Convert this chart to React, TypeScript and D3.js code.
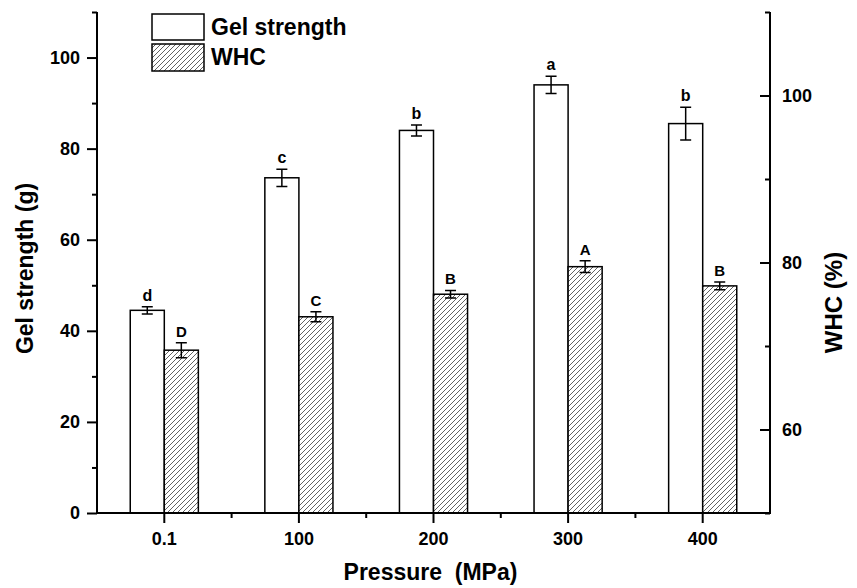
import React, { useRef, useEffect } from 'react';
import * as d3 from 'd3';

const categories = ['0.1', '100', '200', '300', '400'];
const gelStrength = [44.5, 73.6, 84.0, 94.0, 85.5];
const gelError = [0.8, 1.9, 1.2, 1.9, 3.6];
const gelLetters = ['d', 'c', 'b', 'a', 'b'];
const whc = [69.5, 73.5, 76.2, 79.5, 77.2];
const whcError = [0.9, 0.6, 0.45, 0.7, 0.45];
const whcLetters = ['D', 'C', 'B', 'A', 'B'];
const leftTicks = [0, 20, 40, 60, 80, 100];
const leftMinor = [10, 30, 50, 70, 90, 110];
const rightTicks = [60, 80, 100];
const rightMinor = [50, 70, 90, 110];

const FONT = '"Liberation Sans", Arial, Helvetica, sans-serif';

const App = () => {
  const svgRef = useRef<SVGSVGElement | null>(null);

  useEffect(() => {
    const width = 857;
    const height = 588;
    const left = 97, right = 770, top = 12, bottom = 513;

    const svg = d3.select(svgRef.current);
    svg.selectAll('*').remove();
    svg.attr('width', width).attr('height', height);

    svg.append('rect').attr('width', width).attr('height', height).attr('fill', '#fff');

    const defs = svg.append('defs');
    const pat = defs.append('pattern')
      .attr('id', 'hatch')
      .attr('patternUnits', 'userSpaceOnUse')
      .attr('width', 5)
      .attr('height', 5);
    pat.append('rect').attr('width', 5).attr('height', 5).attr('fill', '#fff');
    pat.append('path')
      .attr('d', 'M0,5 L5,0 M-1.25,1.25 L1.25,-1.25 M3.75,6.25 L6.25,3.75')
      .attr('stroke', '#3a3a3a')
      .attr('stroke-width', 0.8);

    const x = d3.scaleBand<string>().domain(categories).range([left, right]).padding(0);
    const yL = d3.scaleLinear().domain([0, 110]).range([bottom, top]);
    const yR = d3.scaleLinear().domain([50, 110]).range([bottom, top]);
    const barW = x.bandwidth() * 0.253;
    const cx = (c: string) => x(c)! + x.bandwidth() / 2;

    const g = svg.append('g');

    // bars
    categories.forEach((c, i) => {
      g.append('rect')
        .attr('x', cx(c) - barW)
        .attr('y', yL(gelStrength[i]))
        .attr('width', barW)
        .attr('height', yL(0) - yL(gelStrength[i]))
        .attr('fill', '#fff')
        .attr('stroke', '#000')
        .attr('stroke-width', 1.5);
      g.append('rect')
        .attr('x', cx(c))
        .attr('y', yR(whc[i]))
        .attr('width', barW)
        .attr('height', yR(50) - yR(whc[i]))
        .attr('fill', 'url(#hatch)')
        .attr('stroke', '#000')
        .attr('stroke-width', 1.5);
    });

    // error bars + letters
    const errBar = (xc: number, y0: number, y1: number) => {
      const cap = 5.5;
      g.append('path')
        .attr('d', `M${xc},${y0}V${y1}M${xc - cap},${y0}H${xc + cap}M${xc - cap},${y1}H${xc + cap}`)
        .attr('stroke', '#000')
        .attr('stroke-width', 1.5)
        .attr('fill', 'none');
    };
    categories.forEach((c, i) => {
      const gx = cx(c) - barW / 2;
      const gTop = yL(gelStrength[i] + gelError[i]);
      errBar(gx, gTop, yL(gelStrength[i] - gelError[i]));
      g.append('text')
        .attr('x', gx).attr('y', gTop - 6)
        .attr('text-anchor', 'middle')
        .attr('font-family', FONT).attr('font-weight', 'bold').attr('font-size', 16)
        .text(gelLetters[i]);

      const wx = cx(c) + barW / 2;
      const wTop = yR(whc[i] + whcError[i]);
      errBar(wx, wTop, yR(whc[i] - whcError[i]));
      g.append('text')
        .attr('x', wx).attr('y', wTop - 6)
        .attr('text-anchor', 'middle')
        .attr('font-family', FONT).attr('font-weight', 'bold').attr('font-size', 15)
        .text(whcLetters[i]);
    });

    const styleAxis = (sel: d3.Selection<SVGGElement, unknown, null, undefined>, size: number) => {
      sel.select('.domain').remove();
      sel.selectAll('line').attr('stroke', '#000').attr('stroke-width', 2);
      sel.selectAll('text')
        .attr('font-family', FONT)
        .attr('font-weight', 'bold')
        .attr('font-size', size)
        .attr('fill', '#000');
    };

    // left axis
    const la = svg.append('g').attr('transform', `translate(${left},0)`)
      .call(d3.axisLeft(yL).tickValues(leftTicks).tickSize(10).tickPadding(7).tickSizeOuter(0));
    styleAxis(la, 18);
    const lm = svg.append('g').attr('transform', `translate(${left},0)`)
      .call(d3.axisLeft(yL).tickValues(leftMinor).tickSize(5).tickFormat(() => '').tickSizeOuter(0));
    styleAxis(lm, 18);

    // right axis (ticks inward)
    const ra = svg.append('g').attr('transform', `translate(${right},0)`)
      .call(d3.axisRight(yR).tickValues(rightTicks).tickSize(-10).tickPadding(12).tickSizeOuter(0));
    styleAxis(ra, 18);
    const rm = svg.append('g').attr('transform', `translate(${right},0)`)
      .call(d3.axisRight(yR).tickValues(rightMinor).tickSize(-5).tickFormat(() => '').tickSizeOuter(0));
    styleAxis(rm, 18);

    // bottom axis
    const ba = svg.append('g').attr('transform', `translate(0,${bottom})`)
      .call(d3.axisBottom(x).tickSize(10).tickPadding(9).tickSizeOuter(0));
    styleAxis(ba, 18);
    const bm = svg.append('g').attr('transform', `translate(0,${bottom})`);
    categories.slice(1).forEach(c => {
      bm.append('line')
        .attr('x1', x(c)!).attr('x2', x(c)!)
        .attr('y1', 0).attr('y2', 5)
        .attr('stroke', '#000').attr('stroke-width', 2);
    });

    // axis lines
    svg.append('path')
      .attr('d', `M${left},${top}V${bottom}H${right}V${top}`)
      .attr('fill', 'none')
      .attr('stroke', '#000')
      .attr('stroke-width', 2);

    // titles
    svg.append('text')
      .attr('transform', `translate(33,${(top + bottom) / 2 + 6}) rotate(-90)`)
      .attr('text-anchor', 'middle')
      .attr('font-family', FONT).attr('font-weight', 'bold').attr('font-size', 23)
      .text('Gel strength (g)');
    svg.append('text')
      .attr('transform', `translate(842,${(top + bottom) / 2 + 40}) rotate(-90)`)
      .attr('text-anchor', 'middle')
      .attr('font-family', FONT).attr('font-weight', 'bold').attr('font-size', 24)
      .text('WHC (%)');
    svg.append('text')
      .attr('x', (left + right) / 2 - 3)
      .attr('y', 580)
      .attr('text-anchor', 'middle')
      .attr('font-family', FONT).attr('font-weight', 'bold').attr('font-size', 23)
      .attr('xml:space', 'preserve')
      .style('white-space', 'pre')
      .text('Pressure  (MPa)');

    // legend
    const lg = svg.append('g');
    lg.append('rect').attr('x', 152).attr('y', 14).attr('width', 52).attr('height', 26)
      .attr('fill', '#fff').attr('stroke', '#000').attr('stroke-width', 1.5);
    lg.append('rect').attr('x', 152).attr('y', 44).attr('width', 52).attr('height', 27)
      .attr('fill', 'url(#hatch)').attr('stroke', '#000').attr('stroke-width', 1.5);
    lg.append('text').attr('x', 211).attr('y', 35)
      .attr('font-family', FONT).attr('font-weight', 'bold').attr('font-size', 23)
      .text('Gel strength');
    lg.append('text').attr('x', 211).attr('y', 65)
      .attr('font-family', FONT).attr('font-weight', 'bold').attr('font-size', 23)
      .text('WHC');
  }, []);

  return (
    <div style={{ position: 'absolute', left: 0, top: 0 }}>
      <svg ref={svgRef} style={{ display: 'block' }}></svg>
    </div>
  );
};

export default App;
